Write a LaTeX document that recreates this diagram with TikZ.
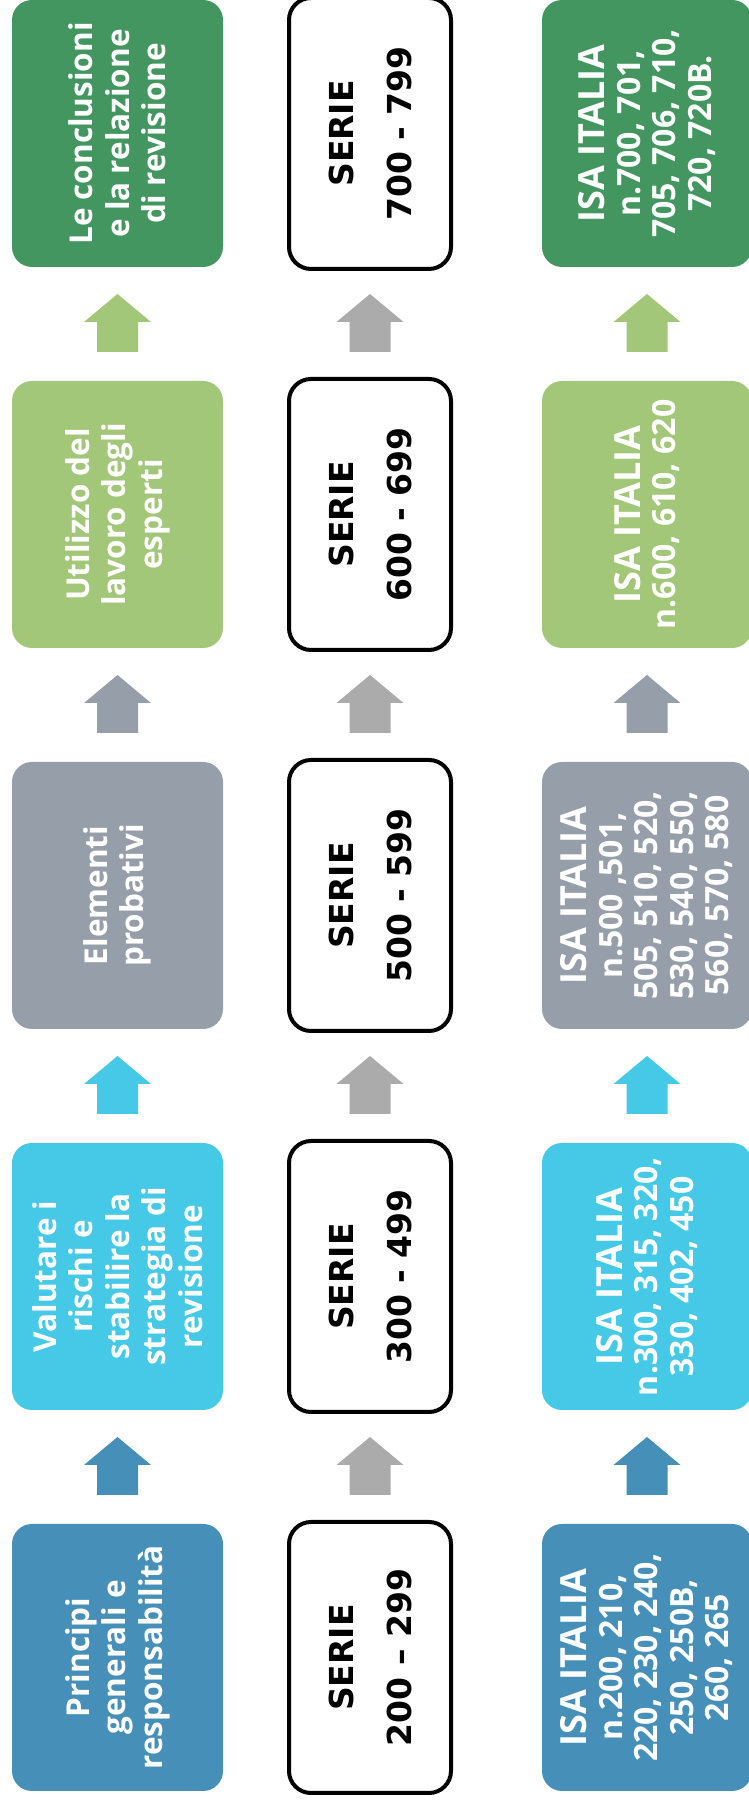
\documentclass[tikz,border=0pt]{standalone}
\usepackage{fontspec}
\setmainfont{Open Sans}
\newfontfamily\dvs{DejaVu Sans}
\usetikzlibrary{calc}
\definecolor{cdg}{HTML}{439660}
\definecolor{clg}{HTML}{A3C778}
\definecolor{cgr}{HTML}{969FA9}
\definecolor{ccy}{HTML}{46C9E7}
\definecolor{cbl}{HTML}{458FB8}
\definecolor{carr}{HTML}{ABABAB}
\newcommand\isahead{{\fontsize{36}{35.5}\selectfont ISA ITALIA}}
\tikzset{
  cbox/.style={rounded corners=20pt, rotate=90, minimum width=267pt, minimum height=211pt, text=white, align=center, inner sep=0pt},
  lbox/.style={cbox, font=\fontsize{31.5}{36.5}\selectfont\bfseries},
  rbox/.style={cbox, minimum height=210pt, font=\fontsize{32}{35.5}\selectfont\bfseries},
  sbox/.style={draw=black, line width=4pt, rounded corners=22pt, rotate=90, minimum width=271pt, minimum height=162pt, fill=white, align=center, inner sep=0pt, font=\dvs\fontsize{33}{58}\selectfont\bfseries},
}
\newcommand\blockup[3]{%
  \fill[#3] let \p1=($(#1)!0.5!(#2)$) in
    (\x1-20.5pt,\y1-28pt) -- (\x1-20.5pt,\y1+2pt) -- (\x1-33.5pt,\y1+2pt) -- (\x1,\y1+30pt)
    -- (\x1+33.5pt,\y1+2pt) -- (\x1+20.5pt,\y1+2pt) -- (\x1+20.5pt,\y1-28pt) -- cycle;}
\begin{document}
\begin{tikzpicture}[x=1pt,y=1pt]
\useasboundingbox (0,0) rectangle (749,1807);
% left column
\node[lbox, fill=cdg] (l1) at (117.5,1673.5) {Le conclusioni\\e la relazione\\di revisione};
\node[lbox, fill=clg] (l2) at (117.5,1292.5) {Utilizzo del\\lavoro degli\\esperti};
\node[lbox, fill=cgr] (l3) at (117.5,911.5) {Elementi\\probativi};
\node[lbox, fill=ccy] (l4) at (117.5,530.5) {Valutare i\\rischi e\\stabilire la\\strategia di\\revisione};
\node[lbox, fill=cbl] (l5) at (117.5,149.5) {Principi\\generali e\\responsabilità};
% middle column
\node[sbox] (m1) at (370,1673.5) {SERIE\\700 - 799};
\node[sbox] (m2) at (370,1292.5) {SERIE\\600 - 699};
\node[sbox] (m3) at (370,911.5) {SERIE\\500 - 599};
\node[sbox] (m4) at (370,530.5) {SERIE\\300 - 499};
\node[sbox] (m5) at (370,149.5) {SERIE\\200 – 299};
% right column
\node[rbox, fill=cdg] (r1) at (647,1673.5) {\isahead\\n.700, 701,\\705, 706, 710,\\720, 720B.};
\node[rbox, fill=clg] (r2) at (647,1292.5) {\isahead\\n.600, 610, 620};
\node[rbox, fill=cgr] (r3) at (647,911.5) {\isahead\\n.500 ,501,\\505, 510, 520,\\530, 540, 550,\\560, 570, 580};
\node[rbox, fill=ccy] (r4) at (647,530.5) {\isahead\\n.300, 315, 320,\\330, 402, 450};
\node[rbox, fill=cbl] (r5) at (647,149.5) {\isahead\\n.200, 210,\\220, 230, 240,\\250, 250B,\\260, 265};
% arrows
\blockup{l2.east}{l1.west}{clg}
\blockup{l3.east}{l2.west}{cgr}
\blockup{l4.east}{l3.west}{ccy}
\blockup{l5.east}{l4.west}{cbl}
\blockup{m2.east}{m1.west}{carr}
\blockup{m3.east}{m2.west}{carr}
\blockup{m4.east}{m3.west}{carr}
\blockup{m5.east}{m4.west}{carr}
\blockup{r2.east}{r1.west}{clg}
\blockup{r3.east}{r2.west}{cgr}
\blockup{r4.east}{r3.west}{ccy}
\blockup{r5.east}{r4.west}{cbl}
\end{tikzpicture}
\end{document}
